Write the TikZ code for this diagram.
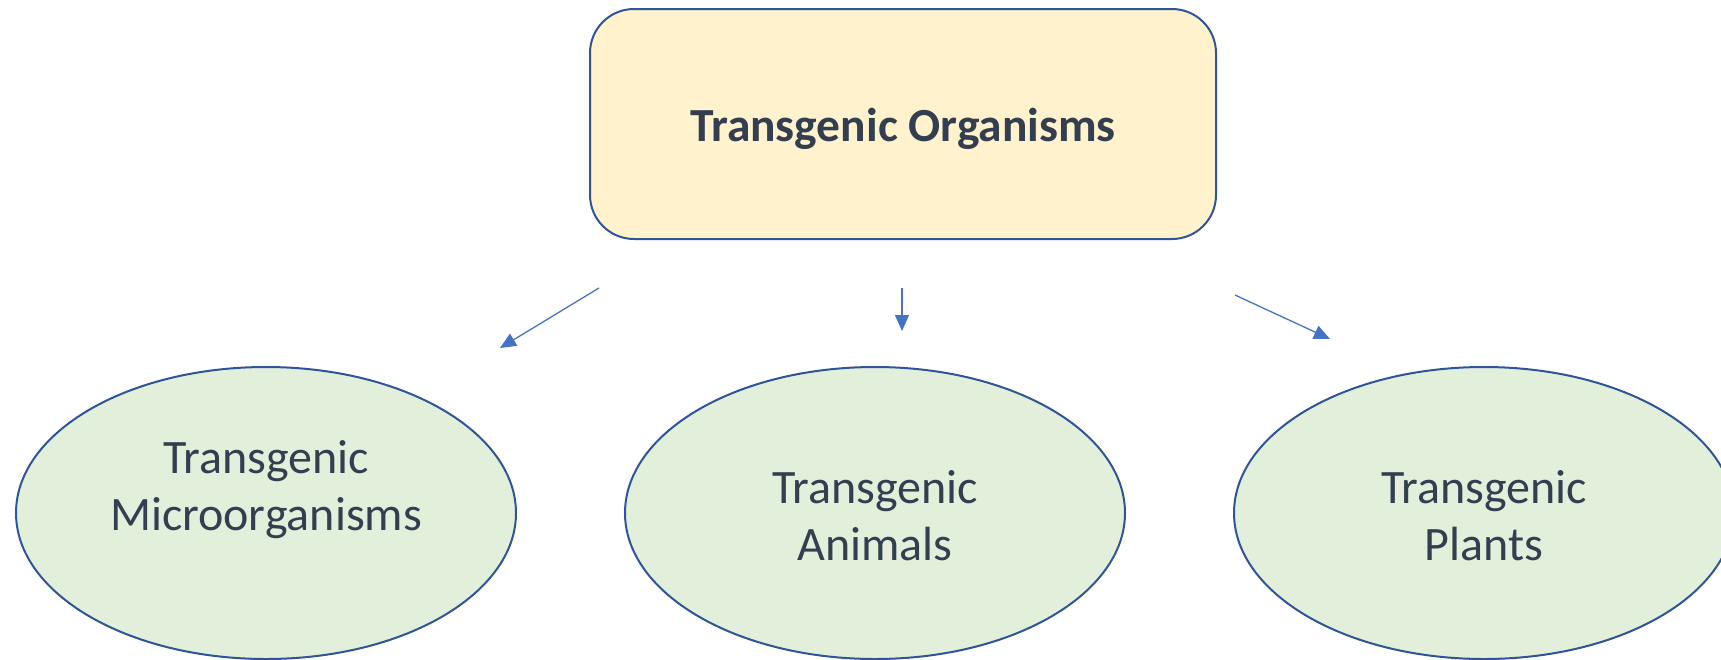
\documentclass[tikz,border=0pt]{standalone}
\usepackage{fontspec}
\setmainfont{Carlito}
\usetikzlibrary{shapes.geometric,arrows.meta,positioning}
\definecolor{boxfill}{HTML}{FFF2CC}
\definecolor{leaffill}{HTML}{E2EFDA}
\definecolor{edgeblue}{HTML}{2F5597}
\definecolor{arrowblue}{HTML}{4472C4}
\definecolor{inkgrey}{HTML}{333F50}
\begin{document}
\begin{tikzpicture}[x=1pt,y=-1pt,
    rootbox/.style={draw=edgeblue, line width=2pt, fill=boxfill, rounded corners=44pt,
      minimum width=626pt, minimum height=230pt},
    roottext/.style={text=inkgrey, font=\fontsize{47.5}{56}\selectfont\bfseries},
    leaf/.style={ellipse, draw=edgeblue, line width=2pt, fill=leaffill,
      minimum width=500pt, minimum height=292pt, inner sep=0pt},
    leaftext/.style={text=inkgrey, align=center, font=\fontsize{48}{57}\selectfont},
    branch/.style={draw=arrowblue, line width=1.3pt, -{Triangle[length=16pt,width=14pt]}}]
  \useasboundingbox (0,0) rectangle (1721,659);

  % main box
  \node[rootbox, label={[roottext, yshift=-5pt]center:Transgenic Organisms}] (root) at (903,124) {};

  % the three groups
  \node[leaf, label={[leaftext, yshift=23pt]center:Transgenic\\Microorganisms}] (micro) at (266,513) {};
  \node[leaf, label={[leaftext, yshift=-3pt]center:Transgenic\\Animals}] (animals) at (875,513) {};
  \node[leaf, label={[leaftext, yshift=-3pt]center:Transgenic\\Plants}] (plants) at (1484,513) {};

  % arrows (free standing)
  \coordinate (lefttop) at (599,288);
  \coordinate (leftend) at (500,348);
  \coordinate (midtop) at (902,288);
  \coordinate (midend) at (902,331);
  \coordinate (righttop) at (1235,295);
  \coordinate (rightend) at (1330,339);
  \draw[branch] (lefttop) -- (leftend);
  \draw[branch] (midtop) -- (midend);
  \draw[branch] (righttop) -- (rightend);
\end{tikzpicture}
\end{document}
